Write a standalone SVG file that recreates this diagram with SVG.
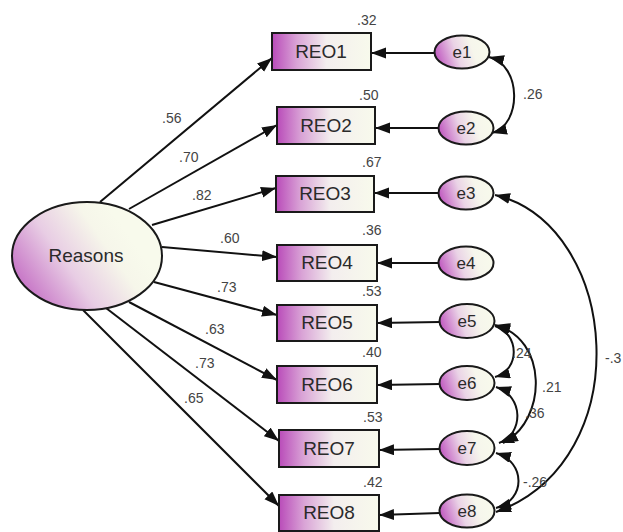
<svg xmlns="http://www.w3.org/2000/svg" width="623" height="532" viewBox="0 0 623 532">
  <style>
    .box { fill: url(#boxGrad); stroke: #1a1a1a; stroke-width: 2; }
    .err { fill: url(#errGrad); stroke: #1a1a1a; stroke-width: 2; }
    .lat { fill: url(#latGrad); stroke: #1a1a1a; stroke-width: 2; }
    .lbl { font-family: "Liberation Sans", Arial, sans-serif; font-size: 19px; fill: #2a2a2a; text-anchor: middle; }
    .elbl { font-family: "Liberation Sans", Arial, sans-serif; font-size: 17px; fill: #2a2a2a; text-anchor: middle; }
    .num { font-family: "Liberation Sans", Arial, sans-serif; font-size: 14px; fill: #444; }
    .path { fill: none; stroke: #111; stroke-width: 2; marker-end: url(#arrow); }
    .cov { fill: none; stroke: #111; stroke-width: 2; marker-start: url(#arrow); marker-end: url(#arrow); }
  </style>
  <defs>
    <linearGradient id="boxGrad" x1="0" y1="0" x2="1" y2="0">
      <stop offset="0" stop-color="#b94bb9"/>
      <stop offset="0.25" stop-color="#d9a3d6"/>
      <stop offset="0.55" stop-color="#f3eeee"/>
      <stop offset="1" stop-color="#f8faec"/>
    </linearGradient>
    <linearGradient id="errGrad" x1="0" y1="0.6" x2="1" y2="0.4">
      <stop offset="0" stop-color="#bf55bf"/>
      <stop offset="0.4" stop-color="#ead3e6"/>
      <stop offset="0.7" stop-color="#f6f6ec"/>
      <stop offset="1" stop-color="#f8faec"/>
    </linearGradient>
    <linearGradient id="latGrad" x1="0" y1="0.75" x2="0.8" y2="0.35">
      <stop offset="0" stop-color="#c268c2"/>
      <stop offset="0.45" stop-color="#e8cde4"/>
      <stop offset="0.8" stop-color="#f6f6ea"/>
      <stop offset="1" stop-color="#f8faec"/>
    </linearGradient>
    <marker id="arrow" markerUnits="userSpaceOnUse" markerWidth="16" markerHeight="12" refX="15" refY="5.5" orient="auto-start-reverse">
      <path d="M0,0 L15,5.5 L0,11 z" fill="#111"/>
    </marker>
  </defs>

  <!-- regression paths, residual paths and covariances -->
  <g id="connectors">
    <path class="path" d="M100,202 L272,58"/>
    <path class="path" d="M129,209 L277,125"/>
    <path class="path" d="M152,225 L276,188"/>
    <path class="path" d="M162,247 L277,257"/>
    <path class="path" d="M154,282 L277,315"/>
    <path class="path" d="M129,302 L277,380"/>
    <path class="path" d="M106,308 L279,441"/>
    <path class="path" d="M83,310 L279,506"/>

    <path class="path" d="M434,53 L371,53"/>
    <path class="path" d="M439,128 L375,128"/>
    <path class="path" d="M439,193 L374,193"/>
    <path class="path" d="M439,263 L377,263"/>
    <path class="path" d="M440,322 L377,323"/>
    <path class="path" d="M440,384 L377,385"/>
    <path class="path" d="M440,449 L379,450"/>
    <path class="path" d="M440,513 L379,515"/>

    <path class="cov" d="M489,57 C522,65 522,125 492,133"/>
    <path class="cov" d="M495,326 C520,334 520,370 495,377"/>
    <path class="cov" d="M495,325 C548,338 548,420 503,443"/>
    <path class="cov" d="M496,387 C524,396 524,434 499,443"/>
    <path class="cov" d="M496,453 C526,462 526,500 496,508"/>
    <path class="cov" d="M495,195 C620,225 640,460 496,512"/>

    <text class="num" x="162" y="123">.56</text>
    <text class="num" x="179" y="162">.70</text>
    <text class="num" x="192" y="200">.82</text>
    <text class="num" x="220" y="243">.60</text>
    <text class="num" x="217" y="292">.73</text>
    <text class="num" x="205" y="334">.63</text>
    <text class="num" x="195" y="368">.73</text>
    <text class="num" x="184" y="403">.65</text>

    <text class="num" x="523" y="99">.26</text>
    <text class="num" x="512" y="358">.24</text>
    <text class="num" x="542" y="392">.21</text>
    <text class="num" x="525" y="418">.36</text>
    <text class="num" x="523" y="487">-.26</text>
    <text class="num" x="605" y="363">-.3</text>
  </g>

  <g id="Reasons">
    <ellipse class="lat" cx="87" cy="256" rx="75" ry="54"/>
    <text class="lbl" x="86" y="262">Reasons</text>
  </g>

  <g id="REO1">
    <rect class="box" x="272" y="33" width="99" height="37"/>
    <text class="lbl" x="321" y="58">REO1</text>
    <text class="num" x="357" y="25">.32</text>
  </g>
  <g id="REO2">
    <rect class="box" x="277" y="107" width="98" height="37"/>
    <text class="lbl" x="326" y="132">REO2</text>
    <text class="num" x="359" y="100">.50</text>
  </g>
  <g id="REO3">
    <rect class="box" x="276" y="176" width="98" height="36"/>
    <text class="lbl" x="325" y="200">REO3</text>
    <text class="num" x="362" y="167">.67</text>
  </g>
  <g id="REO4">
    <rect class="box" x="277" y="245" width="100" height="36"/>
    <text class="lbl" x="327" y="269">REO4</text>
    <text class="num" x="362" y="235">.36</text>
  </g>
  <g id="REO5">
    <rect class="box" x="277" y="305" width="100" height="36"/>
    <text class="lbl" x="327" y="329">REO5</text>
    <text class="num" x="362" y="296">.53</text>
  </g>
  <g id="REO6">
    <rect class="box" x="277" y="366" width="100" height="37"/>
    <text class="lbl" x="327" y="391">REO6</text>
    <text class="num" x="362" y="357">.40</text>
  </g>
  <g id="REO7">
    <rect class="box" x="279" y="430" width="100" height="37"/>
    <text class="lbl" x="329" y="455">REO7</text>
    <text class="num" x="363" y="422">.53</text>
  </g>
  <g id="REO8">
    <rect class="box" x="279" y="495" width="100" height="36"/>
    <text class="lbl" x="329" y="519">REO8</text>
    <text class="num" x="363" y="487">.42</text>
  </g>

  <g id="e1"><ellipse class="err" cx="462" cy="52" rx="27.5" ry="16.5"/><text class="elbl" x="462" y="58">e1</text></g>
  <g id="e2"><ellipse class="err" cx="466" cy="128" rx="27.5" ry="16.5"/><text class="elbl" x="466" y="134">e2</text></g>
  <g id="e3"><ellipse class="err" cx="466" cy="193" rx="27.5" ry="16.5"/><text class="elbl" x="466" y="199">e3</text></g>
  <g id="e4"><ellipse class="err" cx="466" cy="263" rx="27.5" ry="16.5"/><text class="elbl" x="466" y="269">e4</text></g>
  <g id="e5"><ellipse class="err" cx="467" cy="321" rx="27.5" ry="17"/><text class="elbl" x="467" y="327">e5</text></g>
  <g id="e6"><ellipse class="err" cx="467" cy="383" rx="27.5" ry="17"/><text class="elbl" x="467" y="389">e6</text></g>
  <g id="e7"><ellipse class="err" cx="467" cy="448" rx="27.5" ry="17"/><text class="elbl" x="467" y="454">e7</text></g>
  <g id="e8"><ellipse class="err" cx="467" cy="511" rx="27.5" ry="16.5"/><text class="elbl" x="467" y="517">e8</text></g>
</svg>
